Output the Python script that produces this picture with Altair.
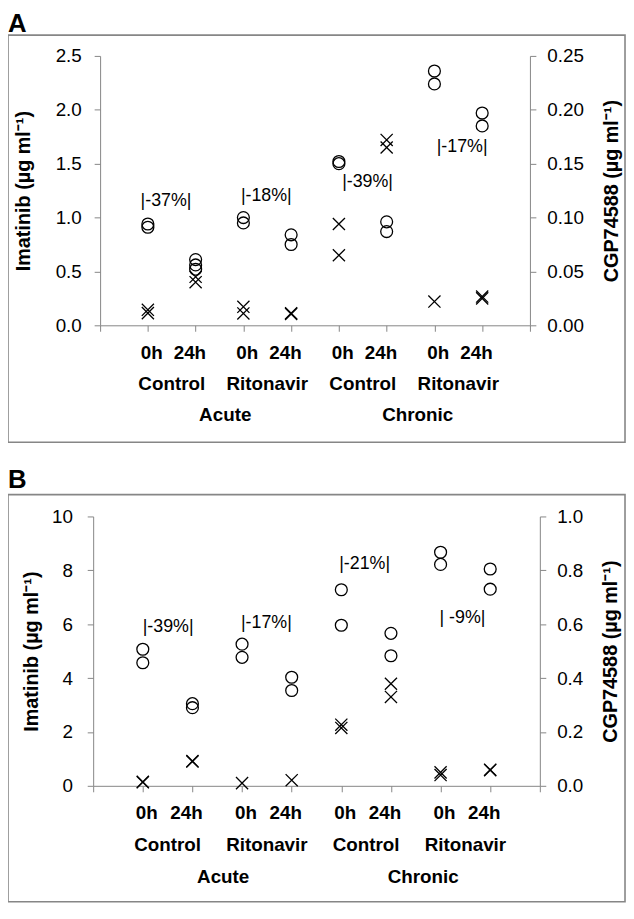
import altair as alt
import pandas as pd

FONT = "Liberation Sans"
GRAY = "#868686"

# ---- data ----
positions = [1, 2, 3, 4, 5, 6, 7, 8]
time_labels = ["0h", "24h", "0h", "24h", "0h", "24h", "0h", "24h"]
treatment_labels = ["Control", "Ritonavir", "Control", "Ritonavir"]
phase_labels = ["Acute", "Chronic"]

# Panel A
imatinib_A = [[0.94, 0.91], [0.61, 0.56, 0.52], [1.00, 0.95], [0.84, 0.75],
              [1.52, 1.50], [0.96, 0.87], [2.36, 2.24], [1.97, 1.85]]
cgp_A = [[0.0144, 0.0113], [0.045, 0.040], [0.0172, 0.0110], [0.0112, 0.0105],
         [0.094, 0.065], [0.172, 0.165], [0.022], [0.0267, 0.0250]]
pct_A_text = ["|-37%|", "|-18%|", "|-39%|", "|-17%|"]
pct_A_x = [1.38, 3.48, 5.60, 7.58]
pct_A_y = [1.155, 1.20, 1.33, 1.655]

# Panel B
imatinib_B = [[5.07, 4.57], [3.05, 2.90], [5.26, 4.77], [4.03, 3.54],
              [7.28, 5.96], [5.66, 4.83], [8.67, 8.22], [8.05, 7.30]]
cgp_B = [[0.015, 0.013], [0.092, 0.090], [0.010], [0.021],
         [0.227, 0.215], [0.379, 0.330], [0.050, 0.040], [0.060, 0.058]]
pct_B_text = ["|-39%|", "|-17%|", "|-21%|", "| -9%|"]
pct_B_x = [1.51, 3.49, 5.47, 7.44]
pct_B_y = [5.90, 6.04, 8.22, 6.22]

CROSS = "M-1,-1L1,1M-1,1L1,-1"
W, H = 451, 737
one = pd.DataFrame({"k": [0]})


def panel_layers(letter, imatinib, cgp, pct_text, pct_x, pct_y,
                 left_vals, left_fmt, right_vals, right_fmt, g):
    circ = pd.DataFrame([{"pos": p, "v": v} for p, vals in zip(positions, imatinib) for v in vals])
    crs = pd.DataFrame([{"pos": p, "v": v} for p, vals in zip(positions, cgp) for v in vals])
    ann = pd.DataFrame({"pos": pct_x, "v": pct_y, "t": pct_text})
    tdf = pd.DataFrame({"pos": [p + (0.08 if t == "0h" else -0.12) for p, t in zip(positions, time_labels)],
                        "t": time_labels})
    trdf = pd.DataFrame({"pos": [2 * i + 1.5 for i in range(4)], "t": treatment_labels})
    phdf = pd.DataFrame({"pos": [2.62, 6.65], "t": phase_labels})

    xs = alt.Scale(domain=[0, 9], range=[g["x0"], g["x1"]], nice=False, zero=False)
    ls = alt.Scale(domain=[0, left_vals[-1]], range=[g["y0"], g["y1"]], nice=False)
    rs = alt.Scale(domain=[0, right_vals[-1]], range=[g["y0"], g["y1"]], nice=False)

    box = alt.Chart(one).mark_rect(filled=False, color=GRAY, strokeWidth=1.6).encode(
        x=alt.value(-86), x2=alt.value(537),
        y=alt.value(g["by0"]), y2=alt.value(g["by1"]))
    lab = alt.Chart(one).mark_text(text=letter, align="left", baseline="alphabetic",
                                   font=FONT, fontSize=26, fontWeight="bold", color="black").encode(
        x=alt.value(-86), y=alt.value(g["ly"]))

    circles = alt.Chart(circ).mark_point(shape="circle", filled=False, size=144,
                                         strokeWidth=1.3, color="black", opacity=1).encode(
        x=alt.X("pos:Q", scale=xs,
                axis=alt.Axis(values=list(range(10)), labels=False, title=None,
                              orient="bottom", offset=g["y0"] - H)),
        y=alt.Y("v:Q", scale=ls,
                axis=alt.Axis(values=left_vals, format=left_fmt, orient="left",
                              offset=-g["x0"],
                              title="Imatinib (µg ml⁻¹)", labelPadding=g["llp"],
                              titlePadding=g["ltp"])))
    crosses = alt.Chart(crs).mark_point(shape=CROSS, filled=False, size=150,
                                        strokeWidth=1.3, color="black", opacity=1).encode(
        x=alt.X("pos:Q", scale=xs, axis=None),
        y=alt.Y("v:Q", scale=rs,
                axis=alt.Axis(values=right_vals, format=right_fmt, orient="right",
                              offset=g["x1"] - W,
                              title="CGP74588 (µg ml⁻¹)", labelPadding=11,
                              titleAngle=270, titleBaseline="top",
                              titlePadding=g["rtp"])))
    annot = alt.Chart(ann).mark_text(font=FONT, fontSize=18, color="black").encode(
        x=alt.X("pos:Q", scale=xs, axis=None),
        y=alt.Y("v:Q", scale=ls, axis=None),
        text="t:N")

    def row(df, ypix):
        return alt.Chart(df).mark_text(font=FONT, fontSize=19, fontWeight="bold",
                                       color="black", baseline="middle").encode(
            x=alt.X("pos:Q", scale=xs, axis=None), y=alt.value(ypix), text="t:N")

    return [box, lab, circles, crosses, annot,
            row(tdf, g["r1"]), row(trdf, g["r2"]), row(phdf, g["r3"])]


# geometry relative to the plot origin
gA = dict(x0=7, x1=441, y0=272, y1=0, by0=-21, by1=390, ly=-24,
          r1=300, r2=331, r3=363, llp=13, ltp=22, rtp=18)
gB = dict(x0=0, x1=451, y0=737, y1=465, by0=443, by1=854, ly=436,
          r1=764, r2=797, r3=829, llp=15, ltp=10, rtp=18)

layers = panel_layers("A", imatinib_A, cgp_A, pct_A_text, pct_A_x, pct_A_y,
                      [0, 0.5, 1.0, 1.5, 2.0, 2.5], ".1f",
                      [0, 0.05, 0.10, 0.15, 0.20, 0.25], ".2f", gA)
layers += panel_layers("B", imatinib_B, cgp_B, pct_B_text, pct_B_x, pct_B_y,
                       [0, 2, 4, 6, 8, 10], "d",
                       [0, 0.2, 0.4, 0.6, 0.8, 1.0], ".1f", gB)

chart = alt.layer(*layers).resolve_scale(x="independent", y="independent").properties(
    width=W, height=H,
    autosize=alt.AutoSizeParams(type="none"),
    padding={"left": 86, "top": 44, "right": 87, "bottom": 122}
).configure_axis(
    domainColor=GRAY, tickColor=GRAY, domainWidth=1, tickWidth=1, tickSize=6,
    labelColor="black", labelFont=FONT, labelFontSize=19,
    titleFont=FONT, titleFontSize=20, titleFontWeight="bold", titleColor="black",
    grid=False
).configure_view(stroke="transparent")

chart.save("out.html", embed_options={"renderer": "svg", "actions": False})
